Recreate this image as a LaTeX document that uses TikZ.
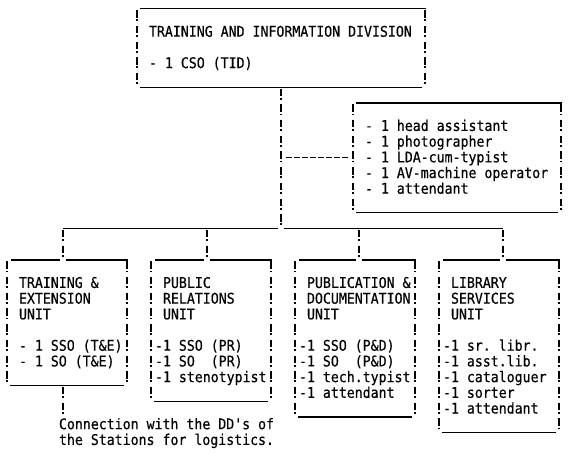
\documentclass[tikz,border=0pt]{standalone}
\usepackage{fontspec}
\setmonofont{DejaVu Sans Mono}[FakeStretch=0.9,FakeBold=0.4]
\usetikzlibrary{fit,calc}
\begin{document}
\begin{tikzpicture}[x=1pt,y=-1pt,
  txt/.style={font=\ttfamily\frenchspacing\fontsize{14.7pt}{15.7pt}\selectfont, anchor=base west, inner sep=0pt, outer sep=0pt},
  bang/.style={line width=1.6pt, dash pattern=on 7.4pt off 1.8pt on 1.8pt off 4.7pt},
  rule/.style={line width=1.15pt},
  dashconn/.style={line width=1.4pt, dash pattern=on 6pt off 2pt},
  frame/.style={inner sep=0pt, outer sep=0pt}]
\fill[white] (0,0) rectangle (575,455);
\useasboundingbox (0,0) rectangle (575,455);

% box outlines (fit nodes: top rule to bottom rule)
\node[frame, fit={(137,8.8) (425,87.3)}] (tid) {};
\node[frame, fit={(353,103) (561,212.9)}] (staff) {};
\node[frame, fit={(7,260) (127,385.6)}] (te) {};
\node[frame, fit={(151,260) (271,401.3)}] (pr) {};
\node[frame, fit={(295,260) (415,417)}] (pd) {};
\node[frame, fit={(439,260) (559,432.7)}] (lib) {};

% bus and tap coordinates
\coordinate (busMain) at (281,228.6);
\coordinate (busTE) at (63,228.6);
\coordinate (busPR) at (207,228.6);
\coordinate (busPD) at (359,228.6);
\coordinate (busLib) at (503,228.6);
\coordinate (tap) at (281,157.5);

% sides and bottoms
\foreach \b in {tid,staff,te,pr,pd,lib}{
  \draw[bang] ($(\b.north west)+(0,1.3)$) -- ($(\b.south west)+(0,-2.5)$);
  \draw[bang] ($(\b.north east)+(0,1.3)$) -- ($(\b.south east)+(0,-2.5)$);
  \draw[rule] ($(\b.south west)+(3,0)$) -- ($(\b.south east)+(-3,0)$);
}
% top rules
\draw[rule] ($(tid.north west)+(3,0)$) -- ($(tid.north east)+(1,0)$);
\draw[rule] ($(staff.north west)+(3,0)$) -- ($(staff.north east)+(1,0)$);
\foreach \c/\b in {busTE/te,busPR/pr,busPD/pd,busLib/lib}{
  \draw[rule] ($(\b.north west)+(4,0)$) -- ($(\b.north -| \c)+(-3,0)$);
  \draw[rule] ($(\b.north -| \c)+(3,0)$) -- ($(\b.north east)+(1,0)$);
  \draw[bang] ($(\c)+(0,1.3)$) -- ($(\b.north -| \c)+(0,-2.5)$);
}

% main column, bus, staff tap
\draw[bang] ($(tid.south)+(0,1.3)$) -- ($(busMain)+(0,-2.5)$);
\draw[rule] (busTE) -- ($(busMain)+(-3,0)$);
\draw[rule] ($(busMain)+(3,0)$) -- (busLib);
\draw[dashconn] ($(tap)+(5,0)$) -- ($(staff.west |- tap)+(-5,0)$);

% texts: top box
\node[txt] (tidA) at (149,36.7) {TRAINING AND INFORMATION DIVISION};
\node[txt] (tidB) at (149,68.1) {- 1 CSO (TID)};
% staff box
\node[txt] (st1) at (365,130.9) {- 1 head assistant};
\node[txt] (st2) at (365,146.6) {- 1 photographer};
\node[txt] (st3) at (365,162.3) {- 1 LDA-cum-typist};
\node[txt] (st4) at (365,178.0) {- 1 AV-machine operator};
\node[txt] (st5) at (365,193.7) {- 1 attendant};
% training & extension
\node[txt] (te1) at (19,287.9) {TRAINING \&};
\node[txt] (te2) at (19,303.6) {EXTENSION};
\node[txt] (te3) at (19,319.3) {UNIT};
\node[txt] (te4) at (19,350.7) {- 1 SSO (T\&E)};
\node[txt] (te5) at (19,366.4) {- 1 SO (T\&E)};
% public relations
\node[txt] (pr1) at (163,287.9) {PUBLIC};
\node[txt] (pr2) at (163,303.6) {RELATIONS};
\node[txt] (pr3) at (163,319.3) {UNIT};
\node[txt] (pr4) at (155,350.7) {-1 SSO (PR)};
\node[txt] (pr5) at (155,366.4) {-1 SO\ \ (PR)};
\node[txt] (pr6) at (155,382.1) {-1 stenotypist};
% publication & documentation
\node[txt] (pd1) at (307,287.9) {PUBLICATION \&};
\node[txt] (pd2) at (307,303.6) {DOCUMENTATION};
\node[txt] (pd3) at (307,319.3) {UNIT};
\node[txt] (pd4) at (299,350.7) {-1 SSO (P\&D)};
\node[txt] (pd5) at (299,366.4) {-1 SO\ \ (P\&D)};
\node[txt] (pd6) at (299,382.1) {-1 tech.typist};
\node[txt] (pd7) at (299,397.8) {-1 attendant};
% library services
\node[txt] (lb1) at (451,287.9) {LIBRARY};
\node[txt] (lb2) at (451,303.6) {SERVICES};
\node[txt] (lb3) at (451,319.3) {UNIT};
\node[txt] (lb4) at (443,350.7) {-1 sr. libr.};
\node[txt] (lb5) at (443,366.4) {-1 asst.lib.};
\node[txt] (lb6) at (443,382.1) {-1 cataloguer};
\node[txt] (lb7) at (443,397.8) {-1 sorter};
\node[txt] (lb8) at (443,413.5) {-1 attendant};
% note below training & extension
\node[txt] (conn1) at (59,429.2) {Connection with the DD's of};
\node[txt] (conn2) at (59,444.9) {the Stations for logistics.};
\draw[bang] ($(te.south -| busTE)+(0,1.3)$) -- ($(te.south -| busTE)+(0,28.9)$);
\end{tikzpicture}
\end{document}
